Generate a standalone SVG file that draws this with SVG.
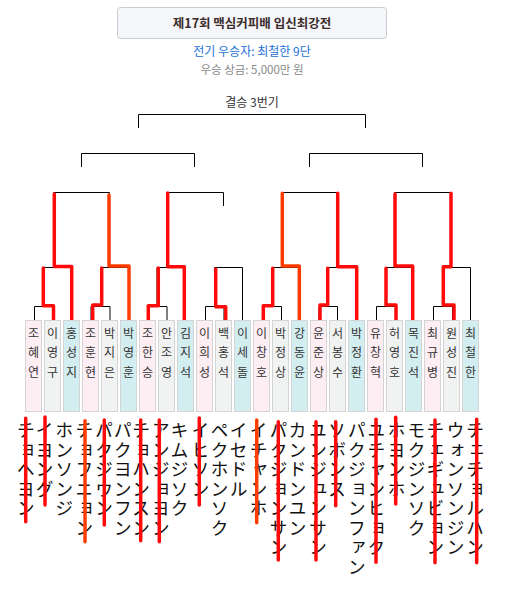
<svg xmlns="http://www.w3.org/2000/svg" width="507" height="603" viewBox="0 0 507 603">
<style>
.bg{fill:#ffffff}
.tbox{fill:#f4f6f9;stroke:#c9ccd1;stroke-width:1}
.title{font-family:"Noto Sans CJK KR","Liberation Sans",sans-serif;font-size:12.5px;font-weight:bold;fill:#3b2b2b;text-anchor:middle}
.sub1{font-family:"Noto Sans CJK KR","Liberation Sans",sans-serif;font-size:12px;fill:#1a6fd6;text-anchor:middle}
.sub2{font-family:"Noto Sans CJK KR","Liberation Sans",sans-serif;font-size:11.5px;fill:#888888;text-anchor:middle}
.lbl{font-family:"Noto Sans CJK KR","Liberation Sans",sans-serif;font-size:12px;fill:#333333;text-anchor:middle}
.pk{fill:#fdeef4;stroke:#d4d4d4;stroke-width:1}
.gy{fill:#f1f2f2;stroke:#d4d4d4;stroke-width:1}
.cy{fill:#d3eef0;stroke:#d4d4d4;stroke-width:1}
.nm{font-family:"Noto Sans CJK KR","Liberation Sans",sans-serif;font-size:12px;fill:#333333;text-anchor:middle}
.kt{font-family:"Noto Sans CJK JP","Noto Sans CJK KR",sans-serif;font-size:18px;fill:#111111;writing-mode:vertical-rl;letter-spacing:1.5px}
.bl{fill:none;stroke:#000000;stroke-width:1}
.rd{fill:none;stroke:#ff0a0a;stroke-width:3.5;stroke-linecap:round;stroke-linejoin:round}
.or{fill:none;stroke:#ff3c00;stroke-width:3.5;stroke-linecap:round;stroke-linejoin:round}
</style>
<rect class="bg" x="0" y="0" width="507" height="603"/>

<g id="title">
<rect class="tbox" x="117.5" y="7.5" width="269" height="31" rx="3"/>
<text class="title" x="252" y="27.5">제17회 맥심커피배 입신최강전</text>
</g>
<g id="info">
<text class="sub1" x="252" y="56">전기 우승자: 최철한 9단</text>
<text class="sub2" x="252" y="74">우승 상금: 5,000만 원</text>
</g>
<g id="final-label">
<text class="lbl" x="252" y="107">결승 3번기</text>
</g>

<g id="connectors">
<g id="black-lines">
<path class="bl" d="M138.5 128 V114.5 H365.5 V128"/>
<path class="bl" d="M81.5 167 V153.5 H194.5 V167"/>
<path class="bl" d="M309.5 167 V153.5 H422.5 V167"/>
<path class="bl" d="M53.5 206 V192.5 H109.5 V206"/>
<path class="bl" d="M167 206 V192.5 H223.5 V206"/>
<path class="bl" d="M281.5 206 V192.5 H337.5 V206"/>
<path class="bl" d="M394.5 206 V192.5 H451 V206"/>
<path class="bl" d="M43.5 306.5 V267.5 H72 V320"/>
<path class="bl" d="M34.5 320 V306.5 H53.5 V320"/>
<path class="bl" d="M100.5 306.5 V267.5 H129 V320"/>
<path class="bl" d="M91 320 V306.5 H110 V320"/>
<path class="bl" d="M157 306.5 V267.5 H185.5 V320"/>
<path class="bl" d="M148 320 V306.5 H167 V320"/>
<path class="bl" d="M214.5 306.5 V267.5 H242.5 V320"/>
<path class="bl" d="M205.5 320 V306.5 H224 V320"/>
<path class="bl" d="M272 306.5 V267.5 H299.5 V320"/>
<path class="bl" d="M262.5 320 V306.5 H281.5 V320"/>
<path class="bl" d="M328 306.5 V267.5 H356.5 V320"/>
<path class="bl" d="M319 320 V306.5 H337.5 V320"/>
<path class="bl" d="M386 306.5 V267.5 H413 V320"/>
<path class="bl" d="M376.5 320 V306.5 H395.5 V320"/>
<path class="bl" d="M443 306.5 V267.5 H470.5 V320"/>
<path class="bl" d="M433.5 320 V306.5 H452.5 V320"/>
</g>
<g id="red-paths">
<path class="rd" d="M54.3 194 V266.5 H71.7 V320"/>
<path class="rd" d="M43.3 268 V305.7 H53.5 V320"/>
<path class="or" d="M109 195 V266 H129 V320"/>
<path class="rd" d="M101.7 268 V305 H92.7 V320"/>
<path class="rd" d="M167.7 193 V266.7 H184.3 V320"/>
<path class="rd" d="M158.3 268 V305.7 H148.3 V320"/>
<path class="rd" d="M215.7 269 V306.7 H225.7 V320"/>
<path class="or" d="M282.3 193.3 V266 H299.3 V320"/>
<path class="rd" d="M272.7 268.3 V305.7 H263.3 V320"/>
<path class="rd" d="M337.7 193.3 V266.7 H356.7 V320"/>
<path class="rd" d="M327.7 268.3 V305 H320 V320"/>
<path class="rd" d="M395 194 V266 H412.7 V320"/>
<path class="rd" d="M386 268.3 V305 H396 V320"/>
<path class="rd" d="M451 193.3 V266.7 H443.3 V305 H454 V320"/>
</g>
</g>

<g id="p0"><rect class="pk" x="25.5" y="320.5" width="16" height="91"/><text class="nm" x="33.5" y="337.5">조<tspan x="33.5" dy="19.7">혜</tspan><tspan x="33.5" dy="19.7">연</tspan></text></g>
<g id="p1"><rect class="gy" x="44.5" y="320.5" width="16" height="91"/><text class="nm" x="52.5" y="337.5">이<tspan x="52.5" dy="19.7">영</tspan><tspan x="52.5" dy="19.7">구</tspan></text></g>
<g id="p2"><rect class="cy" x="63.5" y="320.5" width="16" height="91"/><text class="nm" x="71.5" y="337.5">홍<tspan x="71.5" dy="19.7">성</tspan><tspan x="71.5" dy="19.7">지</tspan></text></g>
<g id="p3"><rect class="pk" x="82.5" y="320.5" width="16" height="91"/><text class="nm" x="90.5" y="337.5">조<tspan x="90.5" dy="19.7">훈</tspan><tspan x="90.5" dy="19.7">현</tspan></text></g>
<g id="p4"><rect class="gy" x="101.5" y="320.5" width="16" height="91"/><text class="nm" x="109.5" y="337.5">박<tspan x="109.5" dy="19.7">지</tspan><tspan x="109.5" dy="19.7">은</tspan></text></g>
<g id="p5"><rect class="cy" x="120.5" y="320.5" width="16" height="91"/><text class="nm" x="128.5" y="337.5">박<tspan x="128.5" dy="19.7">영</tspan><tspan x="128.5" dy="19.7">훈</tspan></text></g>
<g id="p6"><rect class="pk" x="139.5" y="320.5" width="16" height="91"/><text class="nm" x="147.5" y="337.5">조<tspan x="147.5" dy="19.7">한</tspan><tspan x="147.5" dy="19.7">승</tspan></text></g>
<g id="p7"><rect class="gy" x="158.5" y="320.5" width="16" height="91"/><text class="nm" x="166.5" y="337.5">안<tspan x="166.5" dy="19.7">조</tspan><tspan x="166.5" dy="19.7">영</tspan></text></g>
<g id="p8"><rect class="cy" x="177.5" y="320.5" width="16" height="91"/><text class="nm" x="185.5" y="337.5">김<tspan x="185.5" dy="19.7">지</tspan><tspan x="185.5" dy="19.7">석</tspan></text></g>
<g id="p9"><rect class="pk" x="196.5" y="320.5" width="16" height="91"/><text class="nm" x="204.5" y="337.5">이<tspan x="204.5" dy="19.7">희</tspan><tspan x="204.5" dy="19.7">성</tspan></text></g>
<g id="p10"><rect class="gy" x="215.5" y="320.5" width="16" height="91"/><text class="nm" x="223.5" y="337.5">백<tspan x="223.5" dy="19.7">홍</tspan><tspan x="223.5" dy="19.7">석</tspan></text></g>
<g id="p11"><rect class="cy" x="234.5" y="320.5" width="16" height="91"/><text class="nm" x="242.5" y="337.5">이<tspan x="242.5" dy="19.7">세</tspan><tspan x="242.5" dy="19.7">돌</tspan></text></g>
<g id="p12"><rect class="pk" x="253.5" y="320.5" width="16" height="91"/><text class="nm" x="261.5" y="337.5">이<tspan x="261.5" dy="19.7">창</tspan><tspan x="261.5" dy="19.7">호</tspan></text></g>
<g id="p13"><rect class="gy" x="272.5" y="320.5" width="16" height="91"/><text class="nm" x="280.5" y="337.5">박<tspan x="280.5" dy="19.7">정</tspan><tspan x="280.5" dy="19.7">상</tspan></text></g>
<g id="p14"><rect class="cy" x="291.5" y="320.5" width="16" height="91"/><text class="nm" x="299.5" y="337.5">강<tspan x="299.5" dy="19.7">동</tspan><tspan x="299.5" dy="19.7">윤</tspan></text></g>
<g id="p15"><rect class="pk" x="310.5" y="320.5" width="16" height="91"/><text class="nm" x="318.5" y="337.5">윤<tspan x="318.5" dy="19.7">준</tspan><tspan x="318.5" dy="19.7">상</tspan></text></g>
<g id="p16"><rect class="gy" x="329.5" y="320.5" width="16" height="91"/><text class="nm" x="337.5" y="337.5">서<tspan x="337.5" dy="19.7">봉</tspan><tspan x="337.5" dy="19.7">수</tspan></text></g>
<g id="p17"><rect class="cy" x="348.5" y="320.5" width="16" height="91"/><text class="nm" x="356.5" y="337.5">박<tspan x="356.5" dy="19.7">정</tspan><tspan x="356.5" dy="19.7">환</tspan></text></g>
<g id="p18"><rect class="pk" x="367.5" y="320.5" width="16" height="91"/><text class="nm" x="375.5" y="337.5">유<tspan x="375.5" dy="19.7">창</tspan><tspan x="375.5" dy="19.7">혁</tspan></text></g>
<g id="p19"><rect class="gy" x="386.5" y="320.5" width="16" height="91"/><text class="nm" x="394.5" y="337.5">허<tspan x="394.5" dy="19.7">영</tspan><tspan x="394.5" dy="19.7">호</tspan></text></g>
<g id="p20"><rect class="cy" x="405.5" y="320.5" width="16" height="91"/><text class="nm" x="413.5" y="337.5">목<tspan x="413.5" dy="19.7">진</tspan><tspan x="413.5" dy="19.7">석</tspan></text></g>
<g id="p21"><rect class="pk" x="424.5" y="320.5" width="16" height="91"/><text class="nm" x="432.5" y="337.5">최<tspan x="432.5" dy="19.7">규</tspan><tspan x="432.5" dy="19.7">병</tspan></text></g>
<g id="p22"><rect class="gy" x="443.5" y="320.5" width="16" height="91"/><text class="nm" x="451.5" y="337.5">원<tspan x="451.5" dy="19.7">성</tspan><tspan x="451.5" dy="19.7">진</tspan></text></g>
<g id="p23"><rect class="cy" x="462.5" y="320.5" width="16" height="91"/><text class="nm" x="470.5" y="337.5">최<tspan x="470.5" dy="19.7">철</tspan><tspan x="470.5" dy="19.7">한</tspan></text></g>

<g id="katakana">
<text class="kt" x="25.8" y="421.5">チョヘヨン</text>
<text class="kt" x="44.5" y="421.5">イヨング</text>
<text class="kt" x="64.2" y="421.5">ホンソンジ</text>
<text class="kt" x="84.2" y="421.5">チョフニョン</text>
<text class="kt" x="104" y="421.5">パクジウン</text>
<text class="kt" x="122.8" y="421.5">パクヨンフン</text>
<text class="kt" x="141" y="421.5">チョハンスン</text>
<text class="kt" x="160.8" y="421.5">アンジョヨン</text>
<text class="kt" x="179.5" y="421.5">キムジソク</text>
<text class="kt" x="200.5" y="421.5">イヒソン</text>
<text class="kt" x="219.5" y="421.5">ペクホンソク</text>
<text class="kt" x="238.5" y="421.5">イセドル</text>
<text class="kt" x="258.5" y="421.5">イチャンホ</text>
<text class="kt" x="278.5" y="421.5">パクジョンサン</text>
<text class="kt" x="297.5" y="421.5">カンドンユン</text>
<text class="kt" x="318" y="421.5">ユンジュンサン</text>
<text class="kt" x="337" y="421.5">ソボンス</text>
<text class="kt" x="356.7" y="421.5">パクジョンファン</text>
<text class="kt" x="376.3" y="421.5">ユチャンヒョク</text>
<text class="kt" x="396.5" y="421.5">ホヨンホ</text>
<text class="kt" x="416.5" y="421.5">モクジンソク</text>
<text class="kt" x="435.3" y="421.5">チェギュビョン</text>
<text class="kt" x="455.5" y="421.5">ウォンソンジン</text>
<text class="kt" x="475" y="421.5">チェチョルハン</text>
</g>

<g id="strike-lines">
<path class="rd" d="M25.7 418.3 V521.7"/>
<path class="rd" d="M45 417 V505"/>
<path class="or" d="M85 420.7 V541.7"/>
<path class="rd" d="M104.3 420 V525"/>
<path class="rd" d="M140.7 420 V540.7"/>
<path class="rd" d="M159.3 420 V541.7"/>
<path class="rd" d="M199.3 418 V505"/>
<path class="or" d="M256.7 420 V522.7"/>
<path class="rd" d="M278.3 421.7 V560"/>
<path class="rd" d="M316 421.7 V560"/>
<path class="rd" d="M335.7 421.7 V505.7"/>
<path class="rd" d="M376 419.3 V562.3"/>
<path class="rd" d="M395.7 417.3 V504"/>
<path class="rd" d="M435 420 V562.7"/>
<path class="rd" d="M476.7 419.3 V562.7"/>
</g>
</svg>
